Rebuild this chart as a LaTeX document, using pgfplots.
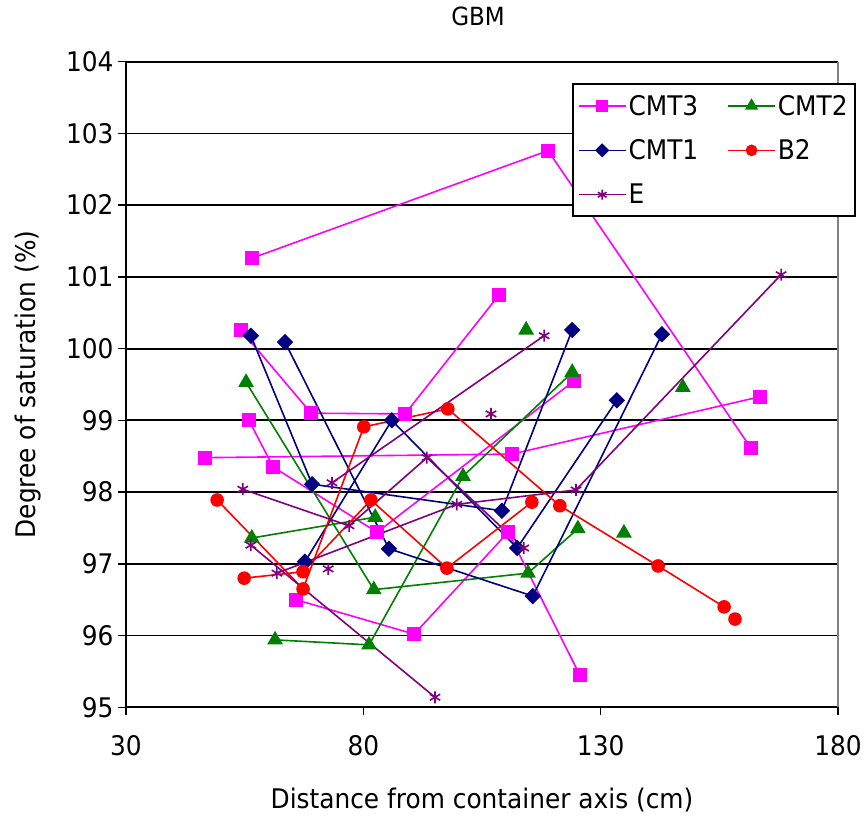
\documentclass[border=0pt]{standalone}
\usepackage{fontspec}
\setmainfont{DejaVu Sans}[FakeStretch=0.92]
\usepackage{pgfplots}
\pgfplotsset{compat=1.18}
\definecolor{cmtthree}{RGB}{255,0,255}
\definecolor{cmttwo}{RGB}{0,128,0}
\definecolor{cmtone}{RGB}{0,0,128}
\definecolor{btwo}{RGB}{255,0,0}
\definecolor{eee}{RGB}{128,0,128}
\pgfplotsset{
  sA/.style={color=cmtthree, draw=cmtthree, line width=1.6pt, mark=square*, mark size=6.3pt, mark options={solid, fill=cmtthree}},
  sB/.style={color=cmttwo, draw=cmttwo, line width=1.6pt, mark=triangle*, mark size=7.5pt, mark options={solid, fill=cmttwo}},
  sC/.style={color=cmtone, draw=cmtone, line width=1.6pt, mark=square*, mark size=5pt, mark options={solid, fill=cmtone, rotate=45}},
  sD/.style={color=btwo, draw=btwo, line width=1.6pt, mark=*, mark size=6pt, mark options={solid, fill=btwo}},
  sE/.style={color=eee, draw=eee, line width=1.6pt, mark=asterisk, mark size=6pt, mark options={solid,line width=1.6pt}},
}
\begin{document}
\begin{tikzpicture}
\begin{axis}[
  scale only axis, width=712pt, height=645.6pt,
  xmin=30, xmax=180, ymin=95, ymax=104,
  xtick={30,80,130,180}, ytick={95,96,...,104},
  axis x line*=bottom, axis y line*=left,
  axis line style={-, black, line width=1.8pt},
  ymajorgrids, grid style={black, line width=1.8pt},
  tick align=outside, major tick length=8pt,
  tick style={black, line width=1.5pt},
  /pgf/number format/assume math mode=true,
  ticklabel style={font=\fontsize{27}{32}\selectfont},
  xticklabel style={yshift=-17pt},
  yticklabel style={xshift=-1pt},
  xlabel={Distance from container axis (cm)},
  ylabel={Degree of saturation (\%)},
  label style={font=\fontsize{27}{32}\selectfont},
  xlabel style={at={(axis description cs:0.5,-0.144)}, anchor=center},
  ylabel style={at={(axis description cs:-0.1376,0.5)}, anchor=center},
  title={GBM},
  title style={at={(axis description cs:0.4944,1.0615)}, anchor=center, font=\fontsize{25}{30}\selectfont},
  clip=false,
  legend columns=2,
  legend cell align=left,
  legend style={at={(axis description cs:0.6264,0.9668)}, anchor=north west,
    draw=black, line width=1.8pt, fill=white, font=\fontsize{27}{32}\selectfont,
    inner xsep=5pt, inner ysep=9pt, row sep=19pt,
    /tikz/every even column/.append style={column sep=27pt}},
  legend image code/.code={\draw[mark repeat=2,mark phase=2] plot coordinates {(0pt,0pt) (23.5pt,0pt) (47pt,0pt)};},
]
\coordinate (SW) at (rel axis cs:0,0);
\draw[gray, line width=1.2pt] (rel axis cs:1,0) -- (rel axis cs:1,1);

\addlegendimage{sA, mark size=5pt}\addlegendentry{CMT3}
\addlegendimage{sB, mark size=6pt}\addlegendentry{CMT2}
\addlegendimage{sC, mark size=4.2pt}\addlegendentry{CMT1}
\addlegendimage{sD, mark size=5pt}\addlegendentry{B2}
\addlegendimage{sE, mark size=5pt}\addlegendentry{E}

% CMT3
\addplot[sA, forget plot] coordinates {(56.5,101.26) (118.9,102.76) (161.7,98.61)};
\addplot[sA, forget plot] coordinates {(46.6,98.48) (111.3,98.53) (163.6,99.33)};
\addplot[sA, forget plot] coordinates {(54.2,100.26) (69.0,99.10) (88.8,99.09) (108.6,100.75)};
\addplot[sA, forget plot] coordinates {(55.9,99.00) (61.0,98.35) (82.9,97.44) (124.4,99.55)};
\addplot[sA, forget plot] coordinates {(65.8,96.50) (90.7,96.02) (110.5,97.44) (125.6,95.45)};

% CMT2
\addplot[sB, forget plot] coordinates {(55.3,99.53) (82.2,96.64) (114.7,96.87) (125.2,97.49)};
\addplot[sB, forget plot] coordinates {(56.5,97.36) (82.5,97.65)};
\addplot[sB, forget plot] coordinates {(61.4,95.94) (81.2,95.87) (101.0,98.22) (124.0,99.67)};
\addplot[sB, only marks, forget plot] coordinates {(114.3,100.26) (147.3,99.46) (134.9,97.43)};

% CMT1
\addplot[sC, forget plot] coordinates {(56.3,100.18) (69.2,98.11) (109.2,97.74) (124.0,100.26)};
\addplot[sC, forget plot] coordinates {(63.5,100.09) (85.4,97.21) (115.7,96.55) (142.9,100.20)};
\addplot[sC, forget plot] coordinates {(67.7,97.03) (86.0,99.00) (112.4,97.22) (133.4,99.28)};

% B2
\addplot[sD, forget plot] coordinates {(49.2,97.89) (67.3,96.65) (80.1,98.91) (97.8,99.16) (121.4,97.81) (142.1,96.97) (156.0,96.40)};
\addplot[sD, forget plot] coordinates {(54.9,96.80) (67.3,96.89) (81.6,97.89) (97.6,96.94) (115.5,97.86)};
\addplot[sD, only marks, forget plot] coordinates {(158.3,96.23)};

% E
\addplot[sE, forget plot] coordinates {(54.6,98.04) (77.0,97.53) (93.4,98.48) (113.8,97.22)};
\addplot[sE, forget plot] coordinates {(73.4,98.13) (118.1,100.18)};
\addplot[sE, forget plot] coordinates {(56.3,97.26) (95.1,95.14)};
\addplot[sE, forget plot] coordinates {(61.8,96.87) (99.7,97.83) (124.8,98.03) (168.0,101.03)};
\addplot[sE, only marks, forget plot] coordinates {(72.6,96.93) (106.9,99.09)};
\end{axis}
\path (SW) ++(-126pt,-110.7pt) rectangle ++(866pt,818pt);
\end{tikzpicture}
\end{document}
